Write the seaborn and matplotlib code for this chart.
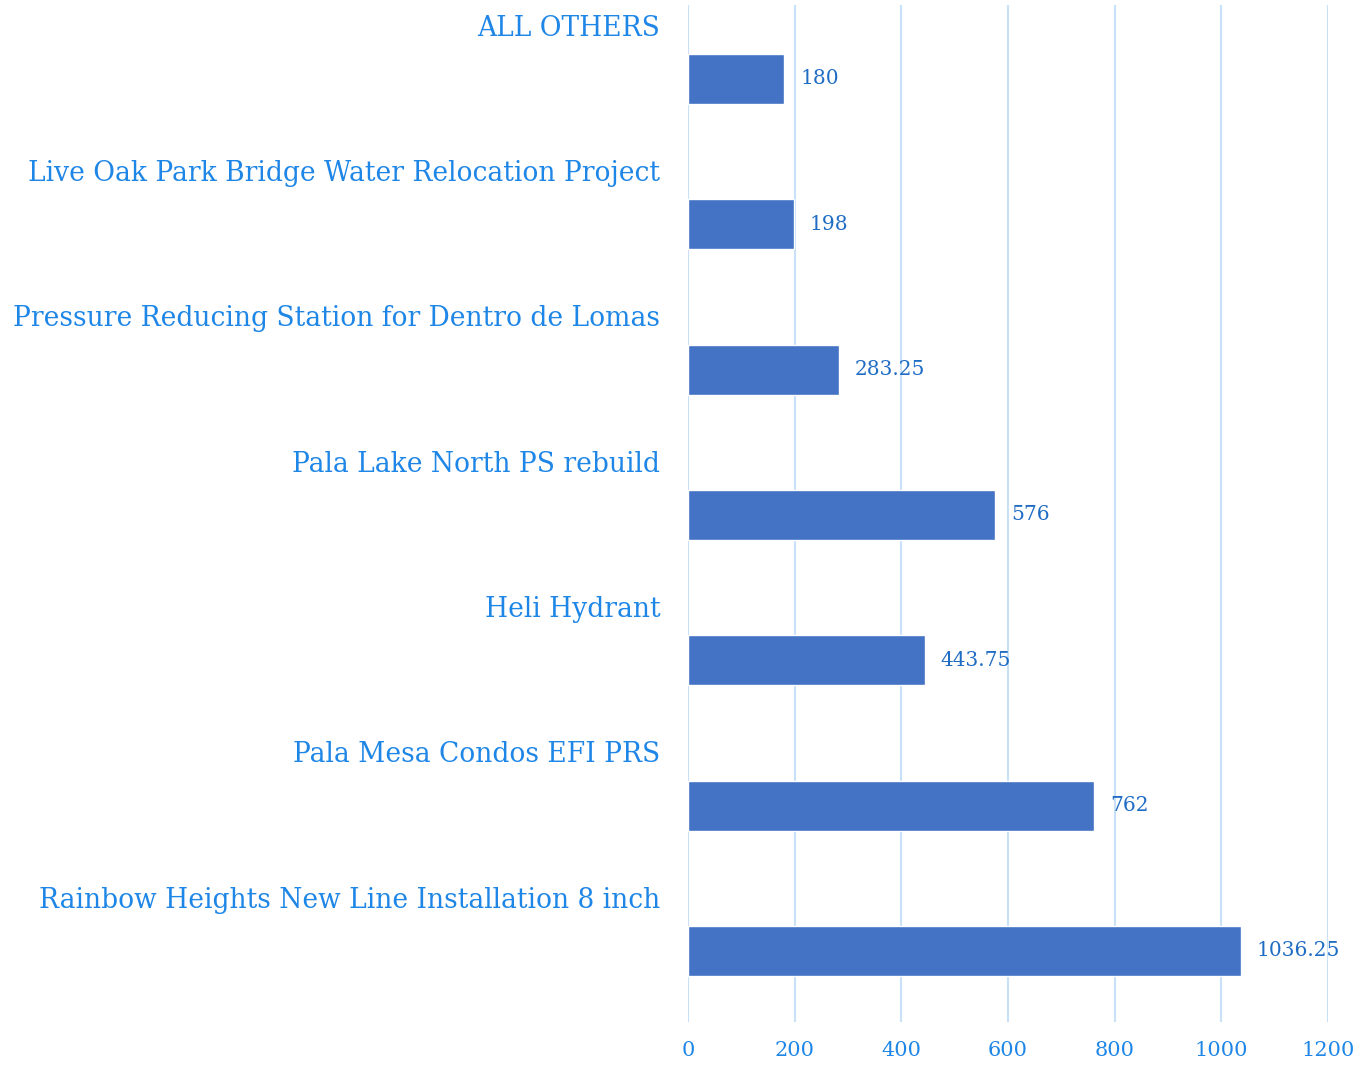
import matplotlib
matplotlib.use("Agg")
import matplotlib.pyplot as plt
import seaborn as sns
import pandas as pd

projects = [
    "ALL OTHERS",
    "Live Oak Park Bridge Water Relocation Project",
    "Pressure Reducing Station for Dentro de Lomas",
    "Pala Lake North PS rebuild",
    "Heli Hydrant",
    "Pala Mesa Condos EFI PRS",
    "Rainbow Heights New Line Installation 8 inch",
]
hours = [180, 198, 283.25, 576, 443.75, 762, 1036.25]
x_ticks = [0, 200, 400, 600, 800, 1000, 1200]

df = pd.DataFrame({"project": projects, "hours": hours})

sns.set_theme(style="white")
plt.rcParams["font.family"] = ["DejaVu Serif"]

label_blue = "#1e86e6"
value_blue = "#1f6cc4"
bar_blue = "#4472c4"
grid_blue = "#c9e1f8"

fig = plt.figure(figsize=(13.59, 10.67), dpi=100)
ax = fig.add_axes([0.5063, 0.0422, 0.4709, 0.9531])

sns.barplot(data=df, y="project", x="hours", orient="h", color=bar_blue,
            saturation=1, width=0.345, ax=ax, zorder=3)

ax.set_xlim(0, 1200)
ax.set_ylim(6.489, -0.509)
ax.set_xticks(x_ticks)
ax.set_xticklabels([str(t) for t in x_ticks], fontsize=15, color=label_blue)
ax.tick_params(axis="x", length=0, pad=14)

# category names sit above each bar, right-aligned against the axis
ax.set_yticks([i - 0.37 for i in range(len(projects))])
ax.set_yticklabels(projects, fontsize=19.1, color=label_blue)
ax.tick_params(axis="y", length=0, pad=20)

ax.set_xlabel("")
ax.set_ylabel("")
for s in ax.spines.values():
    s.set_visible(False)
ax.grid(axis="x", color=grid_blue, linewidth=1.5, zorder=0)
ax.grid(axis="y", visible=False)
ax.set_axisbelow(True)

for i, v in enumerate(hours):
    ax.text(v + 30, i, f"{v:g}", va="center", ha="left", fontsize=14.5,
            color=value_blue)

fig.savefig("out.png", dpi=100)
